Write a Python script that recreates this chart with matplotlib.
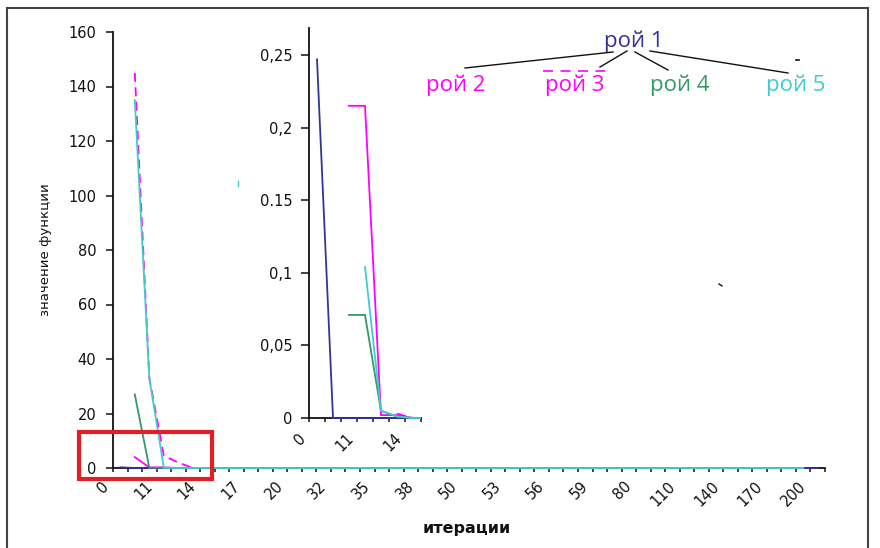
import numpy as np
import matplotlib
matplotlib.use("Agg")
import matplotlib.pyplot as plt
from matplotlib.transforms import ScaledTranslation, blended_transform_factory
from matplotlib.lines import Line2D
from matplotlib.patches import Rectangle

nan = np.nan

# ---- data ----
categories = ["0", "5", "10", "11", "12", "13", "14", "15", "16", "17", "18", "19", "20",
              "24", "28", "32", "33", "34", "35", "36", "37", "38", "42", "46",
              "50", "51", "52", "53", "54", "55", "56", "57", "58", "59", "66", "73",
              "80", "90", "100", "110", "120", "130", "140", "150", "160", "170",
              "180", "190", "200"]

roy1 = [0.247, 0, 0, 0, 0, 0, 0, 0, 0, 0, 0, 0, 0, 0, 0, 0, 0, 0, 0, 0, 0, 0, 0, 0, 0,
        0, 0, 0, 0, 0, 0, 0, 0, 0, 0, 0, 0, 0, 0, 0, 0, 0, 0, 0, 0, 0, 0, 0, 0]
roy2 = [nan, 4.0, 0.215, 0.215, 0.002, 0.002, 0, 0, 0, 0, 0, 0, 0, 0, 0, 0, 0, 0, 0, 0, 0,
        0, 0, 0, 0, 0, 0, 0, 0, 0, 0, 0, 0, 0, 0, 0, 0, 0, 0, 0, 0, 0, 0, 0, 0, 0, 0, 0, nan]
roy3 = [nan, 145, 33, 4.5, 2.0, 0.003, 0, 0, 0, 0, 0, 0, 0, 0, 0, 0, 0, 0, 0, 0, 0,
        0, 0, 0, 0, 0, 0, 0, 0, 0, 0, 0, 0, 0, 0, 0, 0, 0, 0, 0, 0, 0, 0, 0, 0, 0, 0, 0, nan]
roy4 = [nan, 27, 0.071, 0.071, 0.005, 0.001, 0, 0, 0, 0, 0, 0, 0, 0, 0, 0, 0, 0, 0, 0, 0,
        0, 0, 0, 0, 0, 0, 0, 0, 0, 0, 0, 0, 0, 0, 0, 0, 0, 0, 0, 0, 0, 0, 0, 0, 0, 0, 0, nan]
roy5 = [nan, 135, 33, 0.104, 0.005, 0.001, 0, 0, 0, 0, 0, 0, 0, 0, 0, 0, 0, 0, 0, 0, 0,
        0, 0, 0, 0, 0, 0, 0, 0, 0, 0, 0, 0, 0, 0, 0, 0, 0, 0, 0, 0, 0, 0, 0, 0, 0, 0, 0, nan]

series_names = ["рой 1", "рой 2", "рой 3", "рой 4", "рой 5"]
series_vals = [roy1, roy2, roy3, roy4, roy5]

main_yticks = [0, 20, 40, 60, 80, 100, 120, 140, 160]
inset_yticks = [0, 0.05, 0.1, 0.15, 0.2, 0.25]
inset_yticklabels = ["0", "0,05", "0,1", "0.15", "0,2", "0,25"]
inset_ncat = 7
inset_ymax = 0.2686

# ---- styles ----
colors = ["#333399", "#FF00FF", "#FF00FF", "#339966", "#40CCCC"]
styles = ["-", "-", (0, (5, 3)), "-", "-"]
LW = 1.3
W, H = 880, 548
DPI = 100
FONT = "DejaVu Sans"
TFS = 10.5
INK = "#111111"

fig = plt.figure(figsize=(W / DPI, H / DPI), dpi=DPI)
fig.patch.set_facecolor("white")


def fx(x):
    return x / W


def fy(y):
    return 1 - y / H


def pxrect(x0, y0, x1, y1):
    return [fx(x0), fy(y1), fx(x1) - fx(x0), fy(y0) - fy(y1)]


# ---- main axes ----
ax = fig.add_axes(pxrect(113, 32, 825, 468))
ax.set_facecolor("none")
x = np.arange(len(categories))
for k, (vals, c, ls) in enumerate(zip(series_vals, colors, styles)):
    ax.plot(x, vals, color=c, lw=LW, linestyle=ls, solid_joinstyle="miter",
            clip_on=False, zorder=3 + k * 0.1)
ax.set_xlim(-0.5, len(categories) - 0.5)
ax.set_ylim(0, 160)
for s in ["top", "right"]:
    ax.spines[s].set_visible(False)
for s in ["left", "bottom"]:
    ax.spines[s].set_color(INK)
    ax.spines[s].set_linewidth(1.3)
    ax.spines[s].set_zorder(1)
ax.set_yticks(main_yticks)
ax.set_yticklabels([str(v) for v in main_yticks], fontsize=TFS, family=FONT, color=INK)
ax.tick_params(axis="y", direction="out", length=5, width=1.1, pad=7, colors=INK)
ax.set_xticks(np.arange(-0.5, len(categories), 1))
ax.set_xticklabels([])
ax.tick_params(axis="x", direction="out", length=3, width=1.1, colors=INK)
tr = blended_transform_factory(ax.transData, ax.transAxes) + ScaledTranslation(-14 / DPI, -16 / DPI, fig.dpi_scale_trans)
for i in range(0, len(categories), 3):
    ax.text(i, 0, categories[i], transform=tr, rotation=45, rotation_mode="anchor",
            ha="right", va="center", fontsize=TFS, family=FONT, color=INK)

fig.text(fx(46), fy(250), "значение функции", rotation=90, ha="center", va="center",
         fontsize=9.5, family=FONT, color=INK)
fig.text(fx(467), fy(528), "итерации", ha="center", va="center",
         fontsize=11.5, family=FONT, fontweight="bold", color=INK)

# ---- inset axes ----
ax2 = fig.add_axes(pxrect(309, 28, 421, 418))
ax2.set_facecolor("none")
clip_rect = Rectangle((0, -0.02), 1, 1.04, transform=ax2.transAxes)
for k, (vals, c, ls) in enumerate(zip(series_vals, colors, styles)):
    arr = np.array(vals, dtype=float)
    arr[arr > inset_ymax] = nan
    ln, = ax2.plot(x, arr, color=c, lw=LW, linestyle=ls, solid_joinstyle="miter",
                   zorder=3 + k * 0.1)
    ln.set_clip_path(clip_rect)
ax2.set_xlim(-0.5, inset_ncat - 0.5)
ax2.set_ylim(0, inset_ymax)
for s in ["top", "right"]:
    ax2.spines[s].set_visible(False)
for s in ["left", "bottom"]:
    ax2.spines[s].set_color(INK)
    ax2.spines[s].set_linewidth(1.3)
    ax2.spines[s].set_zorder(1)
ax2.set_yticks(inset_yticks)
ax2.set_yticklabels(inset_yticklabels, fontsize=TFS, family=FONT, color=INK)
ax2.tick_params(axis="y", direction="out", length=6, width=1.1, pad=6, colors=INK)
ax2.set_xticks(np.arange(-0.5, inset_ncat, 1))
ax2.set_xticklabels([])
ax2.tick_params(axis="x", direction="out", length=3, width=1.1, colors=INK)
tr2 = blended_transform_factory(ax2.transData, ax2.transAxes) + ScaledTranslation(-14 / DPI, -18 / DPI, fig.dpi_scale_trans)
for i in range(0, inset_ncat, 3):
    ax2.text(i, 0, categories[i], transform=tr2, rotation=45, rotation_mode="anchor",
             ha="right", va="center", fontsize=TFS, family=FONT, color=INK)

# ---- legend-like labels ----
legend_pos = [(634, 41), (456, 85), (575, 85), (680, 85), (796, 85)]
for name, c, (lx, ly) in zip(series_names, colors, legend_pos):
    fig.text(fx(lx), fy(ly), name, color=c, ha="center", va="center",
             fontsize=16, family=["Open Sans", "DejaVu Sans"])

connectors = [((465, 68), (613, 52)), ((600, 67), (627, 51)),
              ((635, 52), (668, 70)), ((650, 51), (788, 73))]
for (x0, y0), (x1, y1) in connectors:
    fig.add_artist(Line2D([fx(x0), fx(x1)], [fy(y0), fy(y1)], transform=fig.transFigure,
                          color=INK, lw=1.0))
fig.add_artist(Line2D([fx(543), fx(605)], [fy(71), fy(71)], transform=fig.transFigure,
                      color="#FF00FF", lw=1.2, linestyle=(0, (6, 4.5))))
# small stray marks of the original
fig.add_artist(Line2D([fx(796), fx(799)], [fy(60), fy(60)], transform=fig.transFigure,
                      color=INK, lw=1.2))
fig.add_artist(Line2D([fx(719), fx(722)], [fy(284), fy(286)], transform=fig.transFigure,
                      color=INK, lw=1.0))
fig.add_artist(Line2D([fx(238), fx(238)], [fy(181), fy(186)], transform=fig.transFigure,
                      color="#40CCCC", lw=1.0))

# ---- red highlight box ----
fig.add_artist(Rectangle((fx(79), fy(479)), fx(212) - fx(79), fy(432) - fy(479),
                         transform=fig.transFigure, fill=False, edgecolor="#E31E24", lw=3.0))

# ---- outer frame ----
fig.add_artist(Rectangle((fx(7), fy(570)), fx(868) - fx(7), fy(8) - fy(570),
                         transform=fig.transFigure, fill=False, edgecolor="#444444", lw=1.5))

fig.savefig("out.png", dpi=DPI, facecolor="white")
